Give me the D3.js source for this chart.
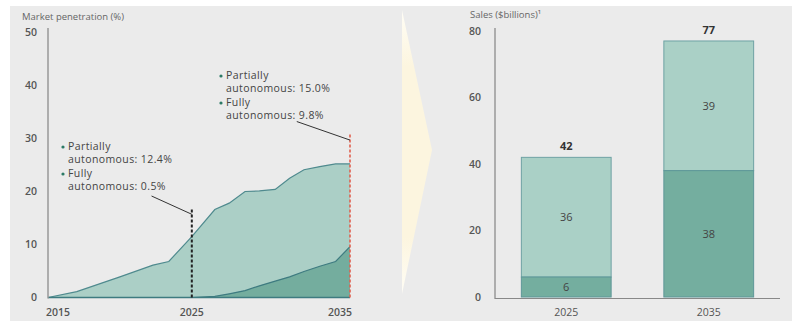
<!DOCTYPE html>
<html><head><meta charset="utf-8">
<script src="https://cdn.jsdelivr.net/npm/d3@7"></script>
<style>
html,body{margin:0;padding:0;background:#fff;}
text{font-family:"Open Sans","Noto Sans",sans-serif;}
</style></head>
<body><svg id="c" width="792" height="321"></svg>
<script>
// ---- data: left panel (market penetration, %) ----
const penYears   = [2015, 2017, 2020, 2022.3, 2023.4, 2025, 2026.6, 2027.6, 2028.7, 2029.7, 2030.8, 2031.8, 2032.8, 2033.9, 2035, 2036];
const penTotal   = [0, 1.1, 3.9, 6.1, 6.8, 11.5, 16.6, 17.8, 20.0, 20.1, 20.4, 22.5, 24.1, 24.7, 25.2, 25.2];
const penFully   = [null, null, null, null, null, 0, 0.2, 0.7, 1.3, 2.2, 3.1, 3.9, 4.9, 5.9, 6.8, 9.6];
const penYTicks  = [0, 10, 20, 30, 40, 50];
const penXTicks  = ["2015", "2025", "2035"];
const noteLeft   = ["Partially", "autonomous: 12.4%", "Fully", "autonomous: 0.5%"];
const noteRight  = ["Partially", "autonomous: 15.0%", "Fully", "autonomous: 9.8%"];
// ---- data: right panel (sales, $billions) ----
const salesYears   = ["2025", "2035"];
const salesFully   = [6, 38];
const salesPartial = [36, 39];
const salesTotal   = [42, 77];
const salesYTicks  = [0, 20, 40, 60, 80];

const svg = d3.select("#c");
// background
svg.append("rect").attr("x",10).attr("y",6).attr("width",782).attr("height",315).attr("fill","#ebebeb");

// chevron arrow
const defs = svg.append("defs");
const g1 = defs.append("linearGradient").attr("id","arr").attr("x1",0).attr("y1",0).attr("x2",0).attr("y2",1);
g1.append("stop").attr("offset","0%").attr("stop-color","#fffdf5");
g1.append("stop").attr("offset","20%").attr("stop-color","#fcf5df");
g1.append("stop").attr("offset","80%").attr("stop-color","#fcf5df");
g1.append("stop").attr("offset","100%").attr("stop-color","#fffdf5");
svg.append("path").attr("d","M402,10 L432,150 L402,294 Z").attr("fill","url(#arr)");

const txt = "#555";
// ================= LEFT =================
const x = d3.scaleLinear().domain([2015, 2036]).range([48, 350]);
const y = d3.scaleLinear().domain([0, 50]).range([297.5, 32.5]);

svg.append("text").attr("x",22).attr("y",20).attr("font-size",9.5).attr("fill","#666").text("Market penetration (%)");

const totalPts = penYears.map((yr,i)=>({yr, v:penTotal[i]}));
const fullPts = penYears.map((yr,i)=>({yr, v:penFully[i]})).filter(d=>d.v!==null);

const area = d3.area().x(d=>x(d.yr)).y0(y(0)).y1(d=>y(d.v));
const line = d3.line().x(d=>x(d.yr)).y(d=>y(d.v));
svg.append("path").attr("d",area(totalPts)).attr("fill","#abcfc6");
svg.append("path").attr("d",line(totalPts)).attr("fill","none").attr("stroke","#4f8a8e").attr("stroke-width",1.2);
svg.append("path").attr("d",area(fullPts)).attr("fill","#74ad9e");
svg.append("path").attr("d",line(fullPts)).attr("fill","none").attr("stroke","#3e7b80").attr("stroke-width",1.2);
svg.append("line").attr("x1",x(2015)).attr("x2",x(2036)).attr("y1",y(0)).attr("y2",y(0)).attr("stroke","#3e7b80").attr("stroke-width",1.5);

// y axis
svg.append("line").attr("x1",48).attr("x2",48).attr("y1",28).attr("y2",y(0)+1).attr("stroke","#999").attr("stroke-width",1.5);
svg.selectAll(".ly").data(penYTicks).join("text")
  .attr("x",37).attr("y",d=>y(d)).attr("dy","0.35em").attr("text-anchor","end")
  .attr("font-size",10.5).attr("font-weight",600).attr("fill",txt).text(d=>d);
// x labels
const anchors = ["start","middle","end"];
const xpos = [x(2015)-2, x(2025), x(2036)+2];
svg.selectAll(".lx").data(penXTicks).join("text")
  .attr("x",(d,i)=>xpos[i]).attr("y",312).attr("dy","0.35em").attr("text-anchor",(d,i)=>anchors[i])
  .attr("font-size",10.5).attr("font-weight",600).attr("fill",txt).text(d=>d);

// markers
svg.append("line").attr("x1",x(2025)).attr("x2",x(2025)).attr("y1",y(0)).attr("y2",y(16.9))
  .attr("stroke","#222").attr("stroke-width",2).attr("stroke-dasharray","3,2");
svg.append("line").attr("x1",x(2022.2)).attr("y1",y(19.15)).attr("x2",x(2025)).attr("y2",y(15.7))
  .attr("stroke","#333").attr("stroke-width",1);
svg.append("line").attr("x1",x(2036)).attr("x2",x(2036)).attr("y1",y(0)).attr("y2",y(31))
  .attr("stroke","#e0604e").attr("stroke-width",1.6).attr("stroke-dasharray","3,2");
svg.append("line").attr("x1",x(2032.3)).attr("y1",y(33.2)).attr("x2",x(2036)).attr("y2",y(29.7))
  .attr("stroke","#333").attr("stroke-width",1);

function note(lines, x0, ys){
  lines.forEach((s,i)=>{
    svg.append("text").attr("x",x0).attr("y",ys[i]).attr("dy","0.35em")
      .attr("font-size",10.5).attr("letter-spacing",0.4).attr("fill","#444").text(s);
    if(i%2===0) svg.append("circle").attr("cx",x0-5).attr("cy",ys[i]+1).attr("r",1.6).attr("fill","#2c7a66");
  });
}
note(noteLeft, 68, [146,159,173,186]);
note(noteRight, 226, [75,88,102,115]);

// ================= RIGHT =================
const xb = d3.scaleBand().domain(salesYears).range([495,780]).paddingInner(0.37).paddingOuter(0.185);
const yb = d3.scaleLinear().domain([0,80]).range([297, 31]);

svg.append("text").attr("x",470).attr("y",18).attr("font-size",9.5).attr("fill","#666").text("Sales ($billions)¹");

const stack = salesYears.map((k,i)=>({k, full:salesFully[i], part:salesPartial[i], tot:salesTotal[i]}));
const bars = svg.selectAll(".b").data(stack).join("g");
bars.append("rect").attr("x",d=>xb(d.k)).attr("width",xb.bandwidth())
  .attr("y",d=>yb(d.full+d.part)).attr("height",d=>yb(d.full)-yb(d.full+d.part))
  .attr("fill","#aad0c6").attr("stroke","#6fa2a4").attr("stroke-width",1);
bars.append("rect").attr("x",d=>xb(d.k)).attr("width",xb.bandwidth())
  .attr("y",d=>yb(d.full)).attr("height",d=>yb(0)-yb(d.full))
  .attr("fill","#74ae9f").attr("stroke","#5e9798").attr("stroke-width",1);
bars.append("text").attr("x",d=>xb(d.k)+xb.bandwidth()/2).attr("y",d=>(yb(d.full)+yb(d.full+d.part))/2)
  .attr("dy","0.35em").attr("text-anchor","middle").attr("font-size",11).attr("fill","#444").text(d=>d.part);
bars.append("text").attr("x",d=>xb(d.k)+xb.bandwidth()/2).attr("y",d=>(yb(0)+yb(d.full))/2)
  .attr("dy","0.35em").attr("text-anchor","middle").attr("font-size",11).attr("fill","#444").text(d=>d.full);
bars.append("text").attr("x",d=>xb(d.k)+xb.bandwidth()/2).attr("y",d=>yb(d.tot)-11)
  .attr("dy","0.35em").attr("text-anchor","middle").attr("font-size",11).attr("font-weight",700).attr("fill","#333").text(d=>d.tot);

svg.append("line").attr("x1",495).attr("x2",495).attr("y1",28).attr("y2",299).attr("stroke","#999").attr("stroke-width",1.5);
svg.append("line").attr("x1",495).attr("x2",780).attr("y1",298.5).attr("y2",298.5).attr("stroke","#888").attr("stroke-width",1.2);
svg.selectAll(".ry").data(salesYTicks).join("text")
  .attr("x",481).attr("y",d=>yb(d)).attr("dy","0.35em").attr("text-anchor","end")
  .attr("font-size",10.5).attr("font-weight",600).attr("fill",txt).text(d=>d);
svg.selectAll(".rx").data(salesYears).join("text")
  .attr("x",d=>xb(d)+xb.bandwidth()/2).attr("y",312).attr("dy","0.35em").attr("text-anchor","middle")
  .attr("font-size",10.5).attr("fill",txt).text(d=>d);
</script></body></html>
